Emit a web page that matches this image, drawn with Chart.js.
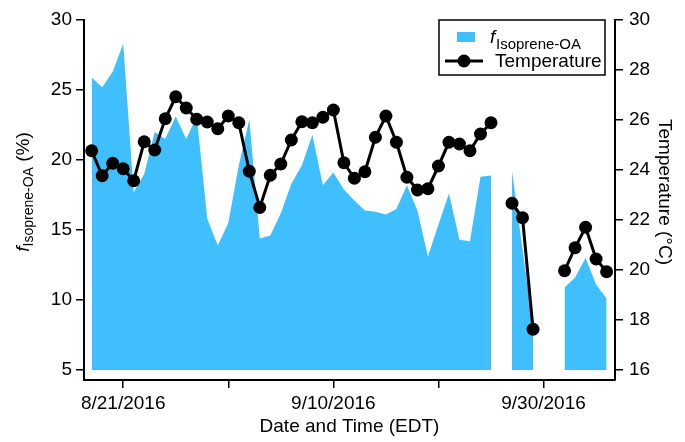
<!DOCTYPE html>
<html>
<head>
<meta charset="utf-8">
<script src="https://cdn.jsdelivr.net/npm/chart.js@4/dist/chart.umd.min.js"></script>
<style>
  html, body { margin: 0; padding: 0; background: #fff; }
  canvas { display: block; }
</style>
</head>
<body>
<canvas id="chart" width="685" height="442"></canvas>
<script>
// Daily data, 8/18/2016 - 10/6/2016
const dates = [
    '8/18/2016', '8/19/2016', '8/20/2016', '8/21/2016', '8/22/2016', '8/23/2016', '8/24/2016',
    '8/25/2016', '8/26/2016', '8/27/2016', '8/28/2016', '8/29/2016', '8/30/2016', '8/31/2016',
    '9/1/2016', '9/2/2016', '9/3/2016', '9/4/2016', '9/5/2016', '9/6/2016', '9/7/2016',
    '9/8/2016', '9/9/2016', '9/10/2016', '9/11/2016', '9/12/2016', '9/13/2016', '9/14/2016',
    '9/15/2016', '9/16/2016', '9/17/2016', '9/18/2016', '9/19/2016', '9/20/2016', '9/21/2016',
    '9/22/2016', '9/23/2016', '9/24/2016', '9/25/2016', '9/26/2016', '9/27/2016', '9/28/2016',
    '9/29/2016', '9/30/2016', '10/1/2016', '10/2/2016', '10/3/2016', '10/4/2016', '10/5/2016',
    '10/6/2016'
];

// f Isoprene-OA (%)
const fIsopreneOA = [
    25.9, 25.2, 26.3, 28.3, 17.7, 19.0, 22.0,
    21.5, 23.1, 21.5, 23.1, 15.8, 13.9, 15.5,
    19.6, 22.9, 14.4, 14.6, 16.2, 18.3, 19.6,
    21.8, 18.2, 19.1, 17.9, 17.1, 16.4, 16.3,
    16.1, 16.5, 18.2, 16.4, 13.1, 15.4, 17.6,
    14.3, 14.2, 18.8, 18.9, null, 19.2, 13.6,
    8.1, null, null, 10.9, 11.6, 13.0, 11.1,
    10.1
];

// Temperature (°C)
const temperature = [
    24.77, 23.77, 24.27, 24.05, 23.57, 25.13, 24.80,
    26.05, 26.93, 26.48, 26.03, 25.92, 25.65, 26.16,
    25.89, 23.95, 22.50, 23.79, 24.24, 25.20, 25.93,
    25.89, 26.11, 26.40, 24.29, 23.67, 23.93, 25.31,
    26.16, 25.11, 23.71, 23.20, 23.25, 24.16, 25.11,
    25.04, 24.77, 25.44, 25.89, null, 22.67, 22.09,
    17.63, null, null, 19.97, 20.89, 21.71, 20.44,
    19.93
];

const tickDates = ['8/21/2016', '8/31/2016', '9/10/2016', '9/20/2016', '9/30/2016'];
const tickLabels = ['8/21/2016', '', '9/10/2016', '', '9/30/2016'];
const leftTicks = [5, 10, 15, 20, 25, 30];
const rightTicks = [16, 18, 20, 22, 24, 26, 28, 30];

const FONT = '"Liberation Sans", Arial, Helvetica, sans-serif';
const BLUE = 'rgb(64, 191, 255)';

function dayOf(str) {
    const p = str.split('/').map(Number);
    return (Date.UTC(p[2], p[0] - 1, p[1]) - Date.UTC(2016, 7, 18)) / 86400000;
}

const fPoints = dates.map((d, i) => ({ x: dayOf(d), y: fIsopreneOA[i] }));
const tPoints = dates.map((d, i) => ({ x: dayOf(d), y: temperature[i] }));

Chart.defaults.font.family = FONT;
Chart.defaults.color = '#000';

function axisStyle() {
    return {
        grid: { drawOnChartArea: false, drawTicks: true, tickLength: 8, color: '#000', lineWidth: 1.5 },
        border: { display: true, color: '#000', width: 2 }
    };
}

// axis titles with subscripts, and the legend box
const titlesAndLegend = {
    id: 'titlesAndLegend',
    afterDraw(chart) {
        const ctx = chart.ctx;
        const area = chart.chartArea;
        ctx.save();
        ctx.fillStyle = '#000';
        ctx.textBaseline = 'alphabetic';

        // x title
        ctx.font = '19px ' + FONT;
        ctx.textAlign = 'center';
        ctx.fillText('Date and Time (EDT)', (area.left + area.right) / 2, 432);

        // left title: f Isoprene-OA (%)
        ctx.textAlign = 'left';
        const parts = [
            { text: 'f', font: 'italic 19px ' + FONT, dy: 0 },
            { text: 'Isoprene-OA', font: '14px ' + FONT, dy: 4 },
            { text: ' (%)', font: '19px ' + FONT, dy: 0 }
        ];
        let total = 0;
        parts.forEach(p => { ctx.font = p.font; p.w = ctx.measureText(p.text).width; total += p.w; });
        ctx.save();
        ctx.translate(29, 192);
        ctx.rotate(-Math.PI / 2);
        let u = -total / 2;
        parts.forEach(p => { ctx.font = p.font; ctx.fillText(p.text, u, p.dy); u += p.w; });
        ctx.restore();

        // right title
        ctx.save();
        ctx.font = '19px ' + FONT;
        ctx.textAlign = 'center';
        ctx.translate(659, 192);
        ctx.rotate(Math.PI / 2);
        ctx.fillText('Temperature (\u00B0C)', 0, 0);
        ctx.restore();

        // legend
        ctx.lineWidth = 1.5;
        ctx.strokeStyle = '#000';
        ctx.fillStyle = '#fff';
        ctx.fillRect(439, 20, 166, 55);
        ctx.strokeRect(439, 20, 166, 55);

        ctx.fillStyle = BLUE;
        ctx.fillRect(457, 32, 18, 10);
        ctx.fillStyle = '#000';
        ctx.textAlign = 'left';
        ctx.font = 'italic 19px ' + FONT;
        ctx.fillText('f', 490, 43);
        ctx.font = '15px ' + FONT;
        ctx.fillText('Isoprene-OA', 496, 49);

        ctx.lineWidth = 3;
        ctx.beginPath();
        ctx.moveTo(445, 61);
        ctx.lineTo(483, 61);
        ctx.stroke();
        ctx.beginPath();
        ctx.arc(464, 61, 6.5, 0, Math.PI * 2);
        ctx.fill();
        ctx.font = '19px ' + FONT;
        ctx.fillText('Temperature', 495, 67);
        ctx.restore();
    }
};

new Chart(document.getElementById('chart'), {
    type: 'line',
    data: {
        datasets: [{
            label: 'Temperature',
            data: tPoints,
            yAxisID: 'y2',
            borderColor: '#000',
            backgroundColor: '#000',
            borderWidth: 3,
            pointRadius: 6.5,
            pointBackgroundColor: '#000',
            pointBorderWidth: 0,
            spanGaps: false,
            fill: false,
            tension: 0,
            order: 0
        }, {
            label: 'fIsoprene-OA',
            data: fPoints,
            yAxisID: 'y',
            borderWidth: 0,
            borderColor: BLUE,
            backgroundColor: BLUE,
            pointRadius: 0,
            spanGaps: false,
            fill: { value: 5 },
            tension: 0,
            order: 1
        }]
    },
    options: {
        responsive: false,
        animation: false,
        devicePixelRatio: 1,
        layout: { padding: { top: 20, left: 0, right: 0, bottom: 0 } },
        plugins: {
            legend: { display: false },
            tooltip: { enabled: false }
        },
        scales: {
            x: {
                type: 'linear',
                position: 'bottom',
                min: -0.73,
                max: 49.8,
                afterBuildTicks: s => { s.ticks = tickDates.map(d => ({ value: dayOf(d) })); },
                afterFit: s => { s.height = 62; },
                ticks: {
                    callback: (v, i) => tickLabels[i],
                    font: { size: 19 },
                    padding: 4,
                    maxRotation: 0,
                    autoSkip: false
                },
                ...axisStyle()
            },
            y: {
                type: 'linear',
                position: 'left',
                min: 5 - 10 / 14,
                max: 30,
                afterBuildTicks: s => { s.ticks = leftTicks.map(v => ({ value: v })); },
                afterFit: s => { s.width = 84; },
                ticks: { font: { size: 19 }, padding: 4 },
                ...axisStyle()
            },
            y2: {
                type: 'linear',
                position: 'right',
                min: 16 - 10 / 25,
                max: 30,
                afterBuildTicks: s => { s.ticks = rightTicks.map(v => ({ value: v })); },
                afterFit: s => { s.width = 70; },
                ticks: { font: { size: 19 }, padding: 6 },
                ...axisStyle()
            }
        }
    },
    plugins: [titlesAndLegend]
});
</script>
</body>
</html>
